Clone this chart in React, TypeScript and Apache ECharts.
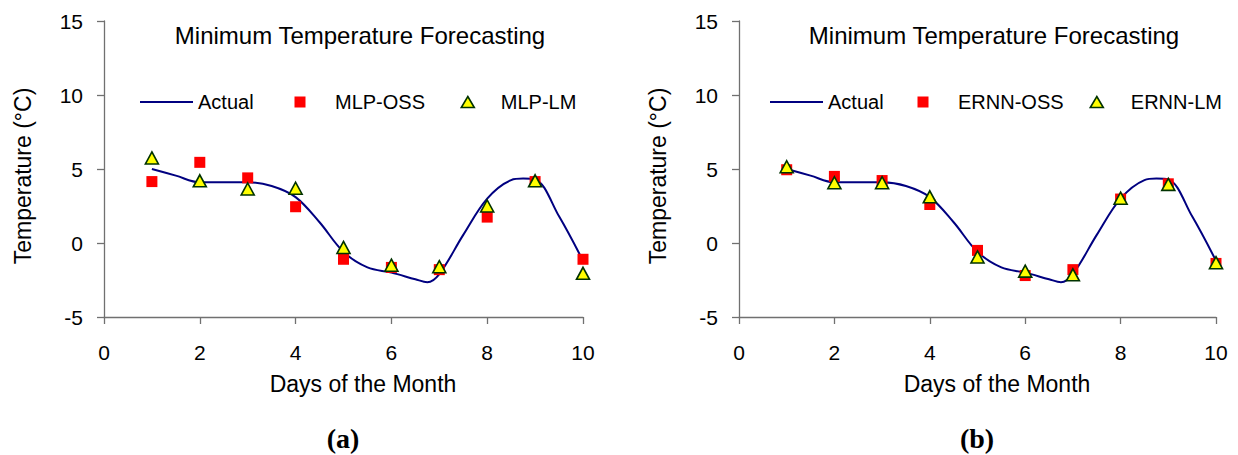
import { useEffect, useRef } from "react";
import * as echarts from "echarts";

// ---- data ----
const days = [1, 2, 3, 4, 5, 6, 7, 8, 9, 10];

// Actual (smooth curve), sampled along the drawn line
const actualDays = [1, 1.5, 2, 2.5, 3, 3.5, 4, 4.5, 5, 5.5, 6, 6.5, 6.75, 7, 7.5, 8, 8.5, 8.75, 9, 9.5, 10];
const actualTemp = [5.0, 4.55, 4.1, 4.1, 4.1, 3.85, 3.1, 1.4, -0.6, -1.65, -2.0, -2.45, -2.65, -2.1, 0.55, 3.0, 4.25, 4.35, 4.3, 1.8, -1.2];

// panel (a)
const mlpOss = [4.15, 5.45, 4.4, 2.45, -1.1, -1.65, -1.8, 1.75, 4.15, -1.1];
const mlpLm = [5.75, 4.2, 3.65, 3.7, -0.3, -1.5, -1.6, 2.5, 4.2, -2.05];

// panel (b)
const ernnOss = [4.95, 4.5, 4.22, 2.6, -0.5, -2.2, -1.8, 2.97, 4.0, -1.38];
const ernnLm = [5.15, 4.07, 4.07, 3.12, -0.94, -1.9, -2.15, 3.03, 3.96, -1.33];

const chartTitle = "Minimum Temperature Forecasting";
const xName = "Days of the Month";
const yName = "Temperature (°C)";
const panelLabels = ["(a)", "(b)"];
const legendNamesA = ["Actual", "MLP-OSS", "MLP-LM"];
const legendNamesB = ["Actual", "ERNN-OSS", "ERNN-LM"];

const FONT = "'Liberation Sans', Arial, Helvetica, sans-serif";

// legend icons: each spans its full box (invisible corner points) so the visible mark sits where wanted
const iconLine = (w: number) => `path://M0,0L0,0Z M${w},12L${w},12Z M0,5H${w}V7H0Z`;
const iconSquare = (w: number, c: number) =>
  `path://M0,0L0,0Z M${w},12L${w},12Z M${c - 5.5},0.5H${c + 5.5}V11.5H${c - 5.5}Z`;
const iconTri = (w: number, c: number) =>
  `path://M0,0L0,0Z M${w},12L${w},12Z M${c},0.5L${c + 6.5},11.5H${c - 6.5}Z`;

const pairs = (xs: number[], ys: number[]) => xs.map((x, i) => [x, ys[i]]);

export default function App() {
  const ref = useRef<HTMLDivElement>(null);

  useEffect(() => {
    if (!ref.current) return;
    const chart = echarts.init(ref.current, null, { renderer: "svg" });

    const grids = [
      { left: 104, top: 21, width: 479, height: 296 },
      { left: 739, top: 21, width: 477, height: 296 },
    ];
    const axisColor = "#707070";

    const xAxes = grids.map((_, i) => ({
      type: "value",
      gridIndex: i,
      min: 0,
      max: 10,
      interval: 2,
      axisLine: { show: true, onZero: false, lineStyle: { color: axisColor, width: 1.3 } },
      axisTick: { show: true, length: 7, lineStyle: { color: axisColor, width: 1.3 } },
      splitLine: { show: false },
      axisLabel: { fontSize: 21, color: "#000", fontFamily: FONT, margin: 25 },
      name: xName,
      nameLocation: "middle",
      nameGap: 55,
      nameTextStyle: { fontSize: 23, color: "#000", fontFamily: FONT, padding: [0, 0, 0, 39] },
    }));

    const yAxes = grids.map((_, i) => ({
      type: "value",
      gridIndex: i,
      min: -5,
      max: 15,
      interval: 5,
      axisLine: { show: true, onZero: false, lineStyle: { color: axisColor, width: 1.3 } },
      axisTick: { show: true, length: 7, lineStyle: { color: axisColor, width: 1.3 } },
      splitLine: { show: false },
      axisLabel: { fontSize: 21, color: "#000", fontFamily: FONT, margin: 21 },
      name: yName,
      nameLocation: "middle",
      nameGap: 70,
      nameTextStyle: { fontSize: 23, color: "#000", fontFamily: FONT, padding: [0, 14, 0, 0] },
    }));

    const lineSeries = (i: number) => ({
      type: "line",
      name: "Actual",
      xAxisIndex: i,
      yAxisIndex: i,
      data: pairs(actualDays, actualTemp),
      smooth: 0.35,
      symbol: "none",
      lineStyle: { color: "#000080", width: 2 },
      itemStyle: { color: "#000080" },
      z: 2,
    });
    const squareSeries = (i: number, name: string, vals: number[]) => ({
      type: "scatter",
      name,
      xAxisIndex: i,
      yAxisIndex: i,
      data: pairs(days, vals),
      symbol: "rect",
      symbolSize: 11,
      itemStyle: { color: "#FF0000", opacity: 1 },
      z: 3,
    });
    const triSeries = (i: number, name: string, vals: number[]) => ({
      type: "scatter",
      name,
      xAxisIndex: i,
      yAxisIndex: i,
      data: pairs(days, vals),
      symbol: "triangle",
      symbolSize: [13, 12],
      itemStyle: { color: "#FFFF00", borderColor: "#003300", borderWidth: 1.6, opacity: 1 },
      z: 4,
    });

    const legendBase = {
      orient: "horizontal",
      top: 92,
      padding: 0,
      itemHeight: 12,
      symbolKeepAspect: true,
      textStyle: { fontSize: 20, color: "#000", fontFamily: FONT },
    };
    // pos: [lineStart, squareCenter, squareTextStart, triCenter, triTextStart]
    const makeLegends = (names: string[], pos: number[]) => {
      const [l0, sc, st, tc, tt] = pos;
      const sqL = sc - 25;
      const sqW = st - 5 - sqL;
      const trL = tc - 25;
      const trW = tt - 5 - trL;
      return [
        {
          ...legendBase,
          left: l0,
          itemWidth: 53,
          data: [{ name: names[0], icon: iconLine(53), itemStyle: { color: "#000080", borderWidth: 0 } }],
        },
        {
          ...legendBase,
          left: sqL,
          itemWidth: sqW,
          data: [{ name: names[1], icon: iconSquare(sqW, 25), itemStyle: { color: "#FF0000", borderWidth: 0 } }],
        },
        {
          ...legendBase,
          left: trL,
          itemWidth: trW,
          data: [
            {
              name: names[2],
              icon: iconTri(trW, 25),
              itemStyle: { color: "#FFFF00", borderColor: "#003300", borderWidth: 1.6 },
            },
          ],
        },
      ];
    };

    const titleStyle = { fontSize: 24, fontWeight: "normal", color: "#000", fontFamily: FONT };
    const panelStyle = {
      fontSize: 28,
      fontWeight: "bold",
      fontFamily: "'Liberation Serif', 'Times New Roman', serif",
      fill: "#000",
      align: "center",
      verticalAlign: "middle",
    };

    chart.setOption({
      animation: false,
      backgroundColor: "#fff",
      title: [
        { text: chartTitle, left: 360, top: 23, padding: 0, textAlign: "center", textStyle: titleStyle },
        { text: chartTitle, left: 994, top: 23, padding: 0, textAlign: "center", textStyle: titleStyle },
      ],
      legend: [
        ...makeLegends(legendNamesA, [140, 300, 335, 467, 500]),
        ...makeLegends(legendNamesB, [770, 923, 958, 1096, 1130]),
      ],
      grid: grids,
      xAxis: xAxes,
      yAxis: yAxes,
      series: [
        lineSeries(0),
        squareSeries(0, "MLP-OSS", mlpOss),
        triSeries(0, "MLP-LM", mlpLm),
        lineSeries(1),
        squareSeries(1, "ERNN-OSS", ernnOss),
        triSeries(1, "ERNN-LM", ernnLm),
      ],
      graphic: [
        { type: "text", x: 343, y: 438, style: { ...panelStyle, text: panelLabels[0] } },
        { type: "text", x: 977, y: 438, style: { ...panelStyle, text: panelLabels[1] } },
      ],
    });

    return () => chart.dispose();
  }, []);

  return (
    <div
      ref={ref}
      style={{ position: "fixed", left: 0, top: 0, width: 1238, height: 455, background: "#fff" }}
    />
  );
}
